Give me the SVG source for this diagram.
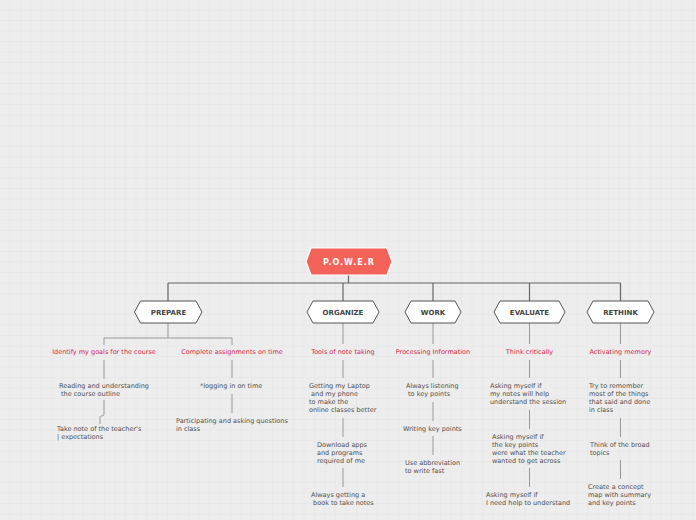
<svg xmlns="http://www.w3.org/2000/svg" width="696" height="520" viewBox="0 0 696 520">
<defs>
<pattern id="grid" width="10.5" height="10.5" patternUnits="userSpaceOnUse">
<rect width="10.5" height="10.5" fill="#ededed"/>
<path d="M10.5 0V10.5M0 10.5H10.5" stroke="#e2e2e2" stroke-width="0.8" fill="none"/>
</pattern>
<style>
.hex{fill:#ffffff;stroke:#555555;stroke-width:1}
.root{fill:#f4635a;stroke:#ffffff;stroke-width:1.2}
.nt{font-family:"DejaVu Sans",Verdana,sans-serif;font-size:7px;font-weight:bold;fill:#444444;text-anchor:middle}
.rt{font-family:"DejaVu Sans",Verdana,sans-serif;font-size:8px;font-weight:bold;fill:#ffffff;text-anchor:middle;letter-spacing:1px}
.lb{font-family:"DejaVu Sans",Verdana,sans-serif;font-size:6.5px;fill:#d4264f;text-anchor:middle}
.lf{font-family:"DejaVu Sans",Verdana,sans-serif;font-size:6.5px;fill:#505050}
.c1{stroke:#666666;stroke-width:1.2;fill:none}
.c2{stroke:#999999;stroke-width:1;fill:none}
</style>
</defs>
<rect width="696" height="520" fill="url(#grid)"/>

<g id="connectors">
<path class="c1" d="M348.5 275V283M168 283H620.5M168 283V301M343 283V301M433 283V301M529.5 283V301M620.5 283V301"/>
<path class="c2" d="M168 323V338M104 345V338H232V345"/>
<path class="c2" d="M343 323V344M433 323V344M529.5 323V344M620.5 323V344"/>
<path class="c2" d="M104 360V379M104 400V414Q104 416 102 416H101Q100 416 100 418V424"/>
<path class="c2" d="M232 360V378M232 394V413"/>
<path class="c2" d="M343 360V378M343 418V437M343 468V487"/>
<path class="c2" d="M433 360V378M433 402V421M433 436V455"/>
<path class="c2" d="M529.5 360V378M529.5 410V429M529.5 468V487"/>
<path class="c2" d="M620.5 360V378M620.5 418V437M620.5 460V479"/>
</g>

<g id="power">
<polygon class="root" points="306,261.5 311,248 387,248 392,261.5 387,275 311,275"/>
<text class="rt" x="349" y="264.5">P.O.W.E.R</text>
</g>

<g id="prepare">
<polygon class="hex" points="134.5,312 140.5,301 196,301 202,312 196,323 140.5,323"/>
<text class="nt" x="168.5" y="314.5">PREPARE</text>
</g>
<g id="organize">
<polygon class="hex" points="307,312 313,301 373,301 379,312 373,323 313,323"/>
<text class="nt" x="343" y="314.5">ORGANIZE</text>
</g>
<g id="work">
<polygon class="hex" points="405,312 411,301 455,301 461,312 455,323 411,323"/>
<text class="nt" x="433" y="314.5">WORK</text>
</g>
<g id="evaluate">
<polygon class="hex" points="494,312 500,301 559,301 565,312 559,323 500,323"/>
<text class="nt" x="529.5" y="314.5">EVALUATE</text>
</g>
<g id="rethink">
<polygon class="hex" points="587,312 593,301 648,301 654,312 648,323 593,323"/>
<text class="nt" x="620.5" y="314.5">RETHINK</text>
</g>

<g id="goals"><text class="lb" x="104" y="353.5">Identify my goals for the course</text></g>
<g id="assignments"><text class="lb" x="232" y="353.5">Complete assignments on time</text></g>
<g id="tools"><text class="lb" x="343" y="353.5">Tools of note taking</text></g>
<g id="processing"><text class="lb" x="433" y="353.5">Processing Information</text></g>
<g id="critically"><text class="lb" x="529.5" y="353.5">Think critically</text></g>
<g id="memory"><text class="lb" x="620.5" y="353.5">Activating memory</text></g>

<g id="reading"><text class="lf" y="387.5"><tspan x="59">Reading and understanding</tspan><tspan x="59" dy="8"> the course outline</tspan></text></g>
<g id="teacher"><text class="lf" y="430.5"><tspan x="57">Take note of the teacher's</tspan><tspan x="57" dy="8">| expectations</tspan></text></g>
<g id="logging"><text class="lf" x="200" y="387.5">*logging in on time</text></g>
<g id="participating"><text class="lf" y="423"><tspan x="176">Participating and asking questions</tspan><tspan x="176" dy="8">in class</tspan></text></g>

<g id="laptop"><text class="lf" y="387.5"><tspan x="309">Getting my Laptop</tspan><tspan x="309" dy="8"> and my phone</tspan><tspan x="309" dy="8">to make the</tspan><tspan x="309" dy="8">online classes better</tspan></text></g>
<g id="download"><text class="lf" y="446.5"><tspan x="317">Download apps</tspan><tspan x="317" dy="8">and programs</tspan><tspan x="317" dy="8">required of me</tspan></text></g>
<g id="book"><text class="lf" y="496.5"><tspan x="311">Always getting a</tspan><tspan x="311" dy="8"> book to take notes</tspan></text></g>

<g id="listening"><text class="lf" y="387.5"><tspan x="406">Always listening</tspan><tspan x="406" dy="8"> to key points</tspan></text></g>
<g id="writing"><text class="lf" x="403" y="430.5">Writing key points</text></g>
<g id="abbreviation"><text class="lf" y="464.5"><tspan x="405">Use abbreviation</tspan><tspan x="405" dy="8">to write fast</tspan></text></g>

<g id="notes-help"><text class="lf" y="387.5"><tspan x="490">Asking myself if</tspan><tspan x="490" dy="8">my notes will help</tspan><tspan x="490" dy="8">understand  the session</tspan></text></g>
<g id="key-points"><text class="lf" y="438.5"><tspan x="492">Asking myself if</tspan><tspan x="492" dy="8">the key points</tspan><tspan x="492" dy="8">were what the teacher</tspan><tspan x="492" dy="8">wanted to get across</tspan></text></g>
<g id="need-help"><text class="lf" y="496.5"><tspan x="486">Asking myself if</tspan><tspan x="486" dy="8">I need help to understand</tspan></text></g>

<g id="remember"><text class="lf" y="387.5"><tspan x="589">Try to remember</tspan><tspan x="589" dy="8">most of the things</tspan><tspan x="589" dy="8">that said and done</tspan><tspan x="589" dy="8">in class</tspan></text></g>
<g id="broad"><text class="lf" y="446.5"><tspan x="590">Think of the broad</tspan><tspan x="590" dy="8">topics</tspan></text></g>
<g id="concept"><text class="lf" y="488.5"><tspan x="588">Create a concept</tspan><tspan x="588" dy="8">map with summary</tspan><tspan x="588" dy="8">and key points</tspan></text></g>
</svg>
